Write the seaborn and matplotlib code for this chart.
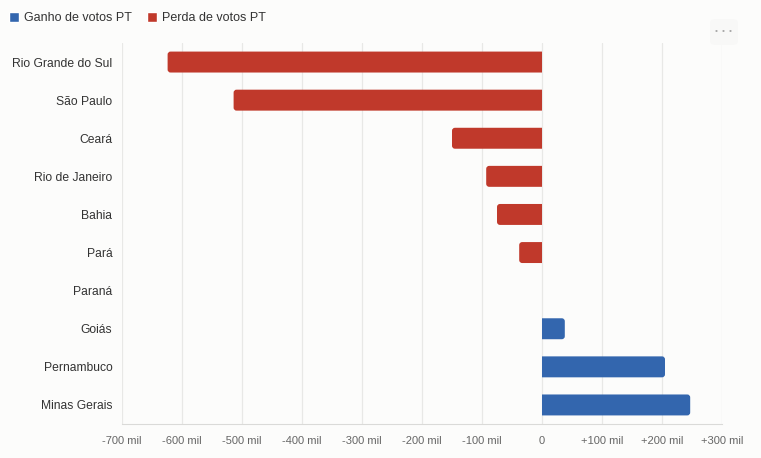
import pandas as pd
import matplotlib.pyplot as plt
import seaborn as sns
from matplotlib.patches import Patch, FancyBboxPatch, Rectangle

estados = ['Rio Grande do Sul', 'São Paulo', 'Ceará', 'Rio de Janeiro', 'Bahia',
           'Pará', 'Paraná', 'Goiás', 'Pernambuco', 'Minas Gerais']
variacao = [-624, -514, -150, -93, -75, -38, 0, 38, 205, 247]  # mil votos
ticks = [-700, -600, -500, -400, -300, -200, -100, 0, 100, 200, 300]
tick_labels = ['-700 mil', '-600 mil', '-500 mil', '-400 mil', '-300 mil', '-200 mil',
               '-100 mil', '0', '+100 mil', '+200 mil', '+300 mil']

azul = '#3366AE'
vermelho = '#C0392B'
fundo = '#FCFCFB'

data = pd.DataFrame({'estado': estados, 'variacao': variacao})
data['tipo'] = ['Ganho de votos PT' if v > 0 else 'Perda de votos PT' for v in data['variacao']]

sns.set_style('white')
plt.rcParams['font.family'] = ['Liberation Sans', 'DejaVu Sans']

fig = plt.figure(figsize=(7.61, 4.58), dpi=100, facecolor=fundo)
ax_ = fig.add_axes([122 / 761, 34 / 458, 600 / 761, 381 / 458])
ax_.set_facecolor(fundo)

sns.barplot(
    data=data,
    x='variacao',
    y='estado',
    hue='tipo',
    hue_order=['Ganho de votos PT', 'Perda de votos PT'],
    palette=[azul, vermelho],
    saturation=1,
    dodge=False,
    width=0.55,
    linewidth=0,
    legend=False,
    ax=ax_,
    )

ax_.set_xlim(-700, 300)

# round only the outer end of each bar (about 3 px)
x_per_px = 1000 / 600
y_per_px = 10 / 381
for bar in list(ax_.patches):
    x0, y0, w, h = bar.get_x(), bar.get_y(), bar.get_width(), bar.get_height()
    color = bar.get_facecolor()
    bar.remove()
    if w == 0:
        continue
    ext = 6 * x_per_px
    if x0 + w < x0:
        left, right = x0 + w, x0 + ext
        clip = Rectangle((-1000, y0 - 1), 1000, h + 2, transform=ax_.transData)
    else:
        left, right = x0 - ext, x0 + w
        clip = Rectangle((0, y0 - 1), 1000, h + 2, transform=ax_.transData)
    rounded = FancyBboxPatch((left, y0), right - left, h,
                             boxstyle=f'round,pad=0,rounding_size={3 * x_per_px}',
                             mutation_aspect=y_per_px / x_per_px,
                             facecolor=color, edgecolor='none', zorder=2)
    ax_.add_patch(rounded)
    rounded.set_clip_path(clip)

ax_.set_xticks(ticks)
ax_.set_xticklabels(tick_labels, fontsize=8, color='#666666')
ax_.set_yticklabels(estados, fontsize=8.7, color='#333333')
ax_.set_xlabel('')
ax_.set_ylabel('')
ax_.grid(axis='x', color='#E8E8E6', linewidth=0.9)
ax_.set_axisbelow(True)
ax_.tick_params(axis='x', length=5, color='#E2E2E0', pad=4)
ax_.tick_params(axis='y', length=0, pad=7)
for side in ['top', 'right', 'left']:
    ax_.spines[side].set_visible(False)
ax_.spines['bottom'].set_color('#DADAD8')

handles = [Patch(facecolor=azul, label='Ganho de votos PT'),
           Patch(facecolor=vermelho, label='Perda de votos PT')]
fig.legend(handles=handles, loc='upper left', bbox_to_anchor=(0.0, 0.993), ncol=2,
           frameon=False, fontsize=9, handlelength=0.8, handleheight=0.8,
           handletextpad=0.4, columnspacing=1.2, borderaxespad=0.3,
           labelcolor='#333333')

# menu button (top right)
fig.patches.append(FancyBboxPatch((710 / 761, 1 - 45 / 458), 28 / 761, 26 / 458,
                                  boxstyle='round,pad=0,rounding_size=0.008',
                                  transform=fig.transFigure, facecolor='#F8F8F7',
                                  edgecolor='none', zorder=3))
for px in [716.5, 723.5, 730.5]:
    fig.text(px / 761, 1 - 32 / 458, '•', fontsize=6, color='#A8A8A8',
             ha='center', va='center', zorder=4)

plt.savefig('out.png', dpi=100, facecolor=fundo)
